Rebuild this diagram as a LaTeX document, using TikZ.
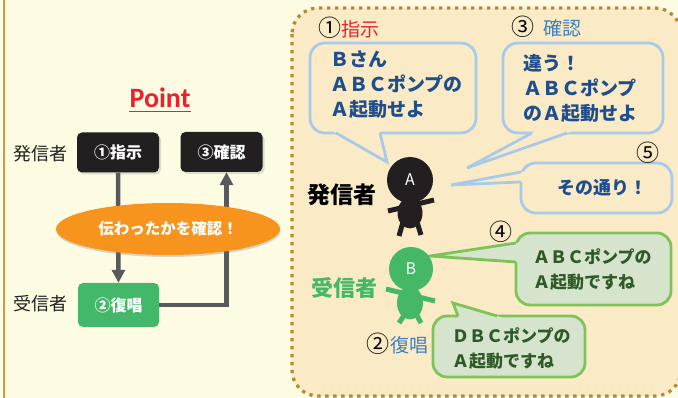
\documentclass[tikz,border=0pt]{standalone}
\usepackage{fontspec}
\setmainfont{Noto Sans CJK JP}
\newfontfamily\pointfont{Carlito}
\usetikzlibrary{arrows.meta,shapes.geometric,shadows,calc}

\definecolor{bgcream}{HTML}{FEFBE3}
\definecolor{panelfill}{HTML}{FAEBC6}
\definecolor{dotbrown}{HTML}{B8872E}
\definecolor{leftrule}{HTML}{CB9A4B}
\definecolor{boxblack}{HTML}{231F20}
\definecolor{arrowgray}{HTML}{58595B}
\definecolor{boxgreen}{HTML}{44B86A}
\definecolor{ellorange}{HTML}{F7941E}
\definecolor{pointred}{HTML}{E8212B}
\definecolor{bubblue}{HTML}{A8CAE8}
\definecolor{bubtext}{HTML}{1F4E8F}
\definecolor{grnfill}{HTML}{D7E4CD}
\definecolor{grnline}{HTML}{80C25A}
\definecolor{grntext}{HTML}{2E5A28}
\definecolor{labelblue}{HTML}{3F7FBF}
\definecolor{figgreen}{HTML}{45B868}
\definecolor{labeldark}{HTML}{231F20}

\newcommand\jpsize[2]{\fontsize{#1}{#2}\selectfont}
\newcommand\circnum[1]{{\jpsize{23}{23}#1}}

\tikzset{
  darkbox/.style={fill=boxblack, rounded corners=5pt, minimum width=82pt,
    minimum height=40pt, text=white, inner sep=0pt,
    font=\bfseries\jpsize{16}{16},
    drop shadow={opacity=0.25, shadow xshift=2pt, shadow yshift=-2pt}},
  greenbox/.style={fill=boxgreen, rounded corners=5pt, minimum width=81pt,
    minimum height=44pt, text=white, inner sep=0pt,
    font=\bfseries\jpsize{16}{16}},
  flowarrow/.style={draw=arrowgray, line width=4.5pt,
    -{Triangle[width=13pt,length=13pt]}},
  sidelabel/.style={anchor=west, inner sep=0pt, text=labeldark,
    font=\jpsize{18}{18}},
  bluebubble/.style={draw=bubblue, fill=panelfill, line width=2.8pt,
    rounded corners=15pt},
  greenbubble/.style={draw=grnline, fill=grnfill, line width=2.8pt,
    rounded corners=14pt},
  bluetail/.style={draw=bubblue, line width=2.8pt, line join=miter},
  greentail/.style={draw=grnline, line width=2.8pt, line join=miter},
  bubblelines/.style={anchor=west, align=left, inner sep=0pt,
    font=\bfseries\jpsize{#1}{25}},
  numlabel/.style={anchor=west, inner sep=0pt, text=black,
    font=\jpsize{19}{19}},
}

\begin{document}
\begin{tikzpicture}[x=1pt,y=-1pt]
\useasboundingbox (0,0) rectangle (678,398);
\fill[bgcream] (0,0) rectangle (678,398);
\draw[leftrule, line width=1.5pt] (4,0) -- (4,398);

% dotted panel on the right
\draw[fill=panelfill, draw=dotbrown, line width=3.2pt,
      dash pattern=on 3.3pt off 4.7pt, rounded corners=26pt]
  (292,8) rectangle (681,396);

% ---------- left: the flow ----------
\node[anchor=base, inner sep=0pt, text=pointred,
      font=\pointfont\bfseries\fontsize{28}{28}\selectfont] (pt) at (160,108) {Point};
\draw[pointred, line width=1.8pt]
  ([yshift=-3.5pt]pt.base west) -- ([yshift=-3.5pt]pt.base east);

\node[sidelabel] (send) at (13,154) {発信者};
\node[sidelabel] (recv) at (13,304) {受信者};

\node[darkbox] (b1) at (118,152.5) {①指示};
\node[darkbox] (b3) at (221.5,152) {③確認};
\node[greenbox] (b2) at (118.5,305) {②復唱};

\draw[flowarrow] (b1.south) -- (b2.north);
\draw[flowarrow] (b2.east) -| ([xshift=5pt]b3.south);

\node[ellipse, fill=ellorange, minimum width=224pt, minimum height=52pt,
      inner sep=0pt, text=white, font=\bfseries\jpsize{15.5}{15.5},
      drop shadow={opacity=0.3, shadow xshift=0.5pt, shadow yshift=-2pt}]
  (ell) at (168,229) {伝わったかを確認！};

% ---------- right: the exchange ----------
% bubble 1 (instruction)
\coordinate (t1) at (387,162);
\coordinate (t1a) at (336,133);
\coordinate (t1b) at (380,133);
\draw[bluebubble] (310,43) rectangle (476,133);
\fill[panelfill] ($(t1)!1.3!(t1a)$) -- (t1) -- ($(t1)!1.3!(t1b)$) -- cycle;
\draw[bluetail] (t1a) -- (t1) -- (t1b);
\node[bubblelines=19, text=bubtext] (m1) at (330,85)
  {Ｂさん\\ＡＢＣポンプの\\Ａ起動せよ};

% bubble 3 (check)
\coordinate (t3) at (467,168);
\coordinate (t3a) at (532,133);
\coordinate (t3b) at (567,133);
\draw[bluebubble] (503,43) rectangle (663,133);
\fill[panelfill] ($(t3)!1.3!(t3a)$) -- (t3) -- ($(t3)!1.3!(t3b)$) -- cycle;
\draw[bluetail] (t3a) -- (t3) -- (t3b);
\node[bubblelines=19, text=bubtext] (m3) at (523,88)
  {違う！\\ＡＢＣポンプ\\のＡ起動せよ};

% bubble 5 (confirmation)
\coordinate (t5) at (451,185);
\coordinate (t5a) at (521,172);
\coordinate (t5b) at (521,182);
\draw[bluebubble] (521,163) rectangle (672,213);
\fill[panelfill] ($(t5)!1.3!(t5a)$) -- (t5) -- ($(t5)!1.3!(t5b)$) -- cycle;
\draw[bluetail] (t5a) -- (t5) -- (t5b);
\node[bubblelines=18, text=bubtext] (m5) at (557,188) {その通り！};

% bubble 4 (read back, correct)
\coordinate (t4) at (430,256);
\coordinate (t4a) at (516,243);
\coordinate (t4b) at (516,262);
\draw[greenbubble] (516,233) rectangle (671,305);
\fill[grnfill] ($(t4)!1.3!(t4a)$) -- (t4) -- ($(t4)!1.3!(t4b)$) -- cycle;
\draw[greentail] (t4a) -- (t4) -- (t4b);
\node[bubblelines=17, text=grntext] (m4) at (533,270)
  {ＡＢＣポンプの\\Ａ起動ですね};

% bubble 2 (read back, wrong)
\coordinate (t2) at (453,303);
\coordinate (t2a) at (458,316);
\coordinate (t2b) at (497,316);
\draw[greenbubble] (433,316) rectangle (585,377);
\fill[grnfill] ($(t2)!1.6!(t2a)$) -- (t2) -- ($(t2)!1.3!(t2b)$) -- cycle;
\draw[greentail] (t2a) -- (t2) -- (t2b);
\node[bubblelines=17, text=grntext] (m2) at (452,349)
  {ＤＢＣポンプの\\Ａ起動ですね};

% step labels
\node[numlabel] (n1) at (318,28) {\circnum{①}\textcolor{pointred}{指示}};
\node[numlabel] (n3) at (511,27) {\circnum{③}\hspace{9pt}\textcolor{labelblue}{確認}};
\node[numlabel] (n5) at (636,153) {\circnum{⑤}};
\node[numlabel] (n4) at (489,232) {\circnum{④}};
\node[numlabel] (n2) at (366,344) {\circnum{②}\hspace{1pt}\textcolor{labelblue}{復唱}};

% sender figure A
\draw[boxblack, line width=5pt] (388,211) -- (434,200);
\draw[boxblack, line width=5pt] (403,222) -- (399,236);
\draw[boxblack, line width=5pt] (417,222) -- (421,235);
\node[ellipse, fill=boxblack, minimum width=25pt, minimum height=31pt,
      inner sep=0pt] (bodyA) at (410,213) {};
\node[circle, fill=boxblack, minimum size=46pt, inner sep=0pt, text=white,
      font=\jpsize{16}{16}] (headA) at (410,180) {A};
\node[inner sep=0pt, text=black, font=\bfseries\jpsize{23}{23}] (sendR) at (342,195) {発信者};

% receiver figure B
\draw[figgreen, line width=5pt] (386,289) -- (435,301);
\draw[figgreen, line width=5pt] (405,314) -- (399,323);
\draw[figgreen, line width=5pt] (416,314) -- (421,323);
\node[ellipse, fill=figgreen, minimum width=26pt, minimum height=33pt,
      inner sep=0pt] (bodyB) at (410,303) {};
\node[circle, fill=figgreen, minimum size=44pt, inner sep=0pt, text=white,
      font=\jpsize{16}{16}] (headB) at (411,269) {B};
\node[inner sep=0pt, text=figgreen, font=\bfseries\jpsize{22}{22}] (recvR) at (344,288) {受信者};

\end{tikzpicture}
\end{document}
